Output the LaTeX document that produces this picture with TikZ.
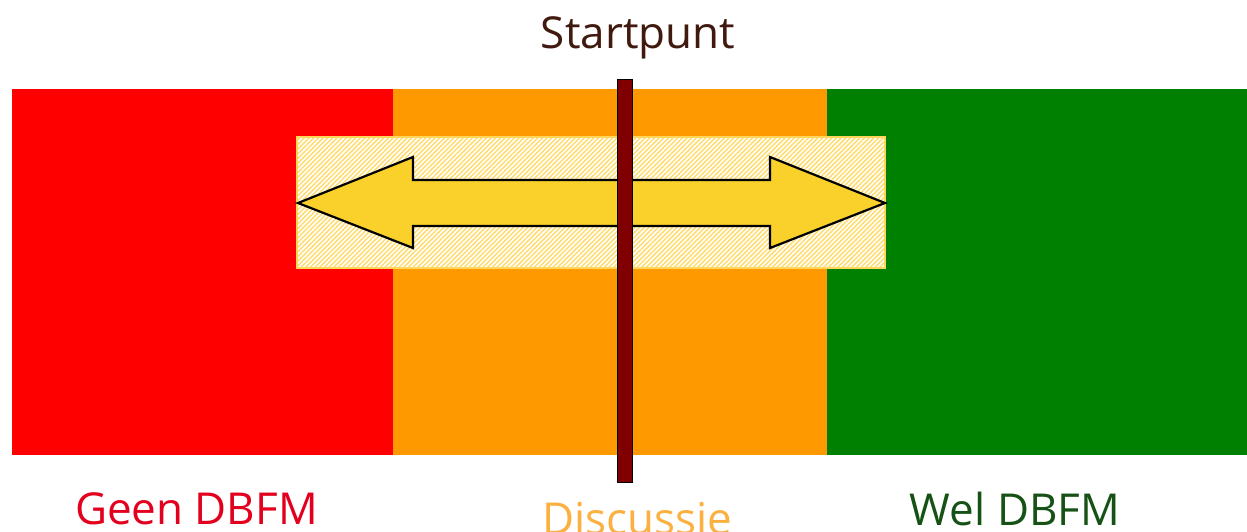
\documentclass[tikz,border=0pt]{standalone}
\usepackage{fontspec}
\setmainfont{Open Sans}
\usetikzlibrary{patterns.meta}
\definecolor{zred}{RGB}{255,0,0}
\definecolor{zorange}{RGB}{255,153,0}
\definecolor{zgreen}{RGB}{0,128,0}
\definecolor{hatchline}{RGB}{255,220,110}
\definecolor{hatchborder}{RGB}{255,214,90}
\definecolor{arrowfill}{RGB}{249,209,42}
\definecolor{barfill}{RGB}{128,0,0}
\definecolor{starttxt}{RGB}{64,26,14}
\definecolor{geentxt}{RGB}{227,0,30}
\definecolor{disctxt}{RGB}{251,176,64}
\definecolor{weltxt}{RGB}{22,82,22}
\tikzset{
  zone/.style={inner sep=0pt, outer sep=0pt, draw=none},
  lbl/.style={anchor=base, inner sep=0pt, font=\fontsize{44}{50}\selectfont},
}
\begin{document}
\begin{tikzpicture}[x=1pt,y=-1pt]
\useasboundingbox (0,0) rectangle (1247,531);
\fill[white] (0,0) rectangle (1247,531);
% zones
\node[zone, fill=zred, minimum width=381pt, minimum height=366pt] (geen) at (202.5,272) {};
\node[zone, fill=zorange, minimum width=434pt, minimum height=366pt] (disc) at (610,272) {};
\node[zone, fill=zgreen, minimum width=420pt, minimum height=366pt] (wel) at (1037,272) {};
% hatched band
\node[zone, fill=white, minimum width=588pt, minimum height=131pt] (band) at (591,202.5) {};
\path[pattern={Lines[angle=45,distance=3.3pt,line width=1.5pt]}, pattern color=hatchline]
  (band.south west) rectangle (band.north east);
\draw[hatchborder, line width=1.2pt] (band.south west) rectangle (band.north east);
% double arrow
\draw[fill=arrowfill, line width=2.2pt, line join=miter]
  (298,203) -- (413,157) -- (413,180) -- (770,180) -- (770,157) -- (885,203)
  -- (770,248) -- (770,226) -- (413,226) -- (413,248) -- cycle;
% start bar
\node[zone, fill=barfill, draw=black, line width=1.6pt, minimum width=15pt, minimum height=403pt] (bar) at (625,281) {};
% labels
\node[lbl, text=starttxt] (start) at (638,48) {Startpunt};
\node[lbl, text=geentxt] (geenlbl) at (196.5,524) {Geen DBFM};
\node[lbl, text=disctxt] (disclbl) at (637.5,534) {Discussie};
\node[lbl, text=weltxt] (wellbl) at (1015,525) {Wel DBFM};
\end{tikzpicture}
\end{document}
